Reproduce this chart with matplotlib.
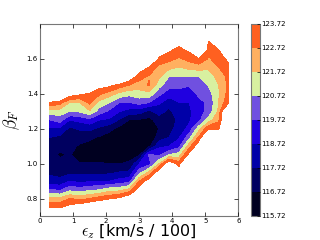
import matplotlib
matplotlib.use("Agg")
import matplotlib.pyplot as plt
import numpy as np
from matplotlib.colors import ListedColormap, BoundaryNorm

plt.style.use("classic")
plt.rcParams["mathtext.fontset"] = "cm"

W = 127.0  # outside the fitted region (above top level -> left blank)

eps_z = [0.3, 0.6, 0.9, 1.2, 1.5, 1.8, 2.1, 2.4, 2.7, 3.0, 3.3, 3.6, 3.9, 4.2, 4.5, 4.8, 5.1, 5.4, 5.7]
beta_f = [0.70, 0.75, 0.80, 0.85, 0.90, 0.95, 1.00, 1.05, 1.10, 1.15, 1.20, 1.25,
          1.30, 1.35, 1.40, 1.45, 1.50, 1.55, 1.60, 1.65, 1.70, 1.75, 1.80]

# one list per eps_z column, values along beta_f
chi2_columns = [
    [W, 123.6, 122.05, 119.78, 118.15, 117.5, 117.1, 117.0, 117.4, 117.72, 118.55, 119.72, 121.3, 123.6, W, W, W, W, W, W, W, W, W],
    [W, 123.6, 121.94, 119.58, 117.95, 117.4, 117.0, 116.6, 116.9, 117.5, 118.45, 120.16, 121.25, 123.09, W, W, W, W, W, W, W, W, W],
    [W, 124.2, 122.72, 120.43, 118.7, 117.48, 116.95, 116.8, 116.95, 117.3, 117.5, 118.72, 120.72, 121.72, 124.6, W, W, W, W, W, W, W, W],
    [W, 124.68, 122.4, 120.17, 118.45, 117.43, 116.78, 116.3, 116.6, 117.1, 117.85, 119.0, 120.89, 121.72, 124.0, W, W, W, W, W, W, W, W],
    [W, 125.2, 122.72, 120.52, 118.58, 117.47, 116.8, 116.3, 116.4, 116.9, 117.95, 119.39, 121.6, 123.0, 123.6, W, W, W, W, W, W, W, W],
    [W, 125.5, 123.22, 120.72, 118.63, 117.47, 116.8, 116.2, 116.1, 116.6, 117.5, 118.72, 120.22, 121.37, 122.86, 124.3, W, W, W, W, W, W, W],
    [W, W, 123.6, 121.28, 118.72, 117.5, 116.72, 116.2, 115.95, 116.3, 117.0, 118.53, 119.52, 120.72, 122.22, 124.1, W, W, W, W, W, W, W],
    [W, W, 124.0, 121.38, 119.05, 117.76, 116.7, 116.2, 115.9, 116.0, 116.4, 117.6, 118.78, 119.72, 121.42, 123.33, W, W, W, W, W, W, W],
    [W, W, 125.0, 122.05, 119.32, 117.9, 116.85, 116.4, 116.0, 115.9, 116.1, 116.7, 118.3, 119.72, 121.0, 122.72, 124.8, W, W, W, W, W, W],
    [W, W, W, 124.4, 122.72, 120.32, 118.72, 116.6, 115.95, 115.8, 116.0, 116.6, 118.2, 120.1, 121.3, 122.2, 123.2, 124.5, W, W, W, W, W],
    [W, W, W, W, 124.5, 121.95, 119.3, 119.9, 116.5, 115.8, 115.9, 116.4, 117.5, 119.72, 121.4, 122.85, 122.6, 123.6, W, W, W, W, W],
    [W, W, W, W, W, 124.66, 121.72, 119.5, 118.5, 117.2, 116.75, 117.2, 118.15, 118.9, 119.97, 121.1, 121.95, 122.35, 123.5, 124.6, W, W, W],
    [W, W, W, W, W, W, 125.0, 120.72, 118.72, 117.72, 117.3, 117.3, 117.5, 118.1, 119.2, 120.1, 120.72, 121.97, 123.05, 123.9, W, W, W],
    [W, W, W, W, W, 124.5, 123.22, 121.22, 119.37, 118.6, 118.2, 117.9, 118.2, 118.7, 119.33, 120.0, 120.72, 121.63, 122.55, 123.4, 124.2, W, W],
    [W, W, W, W, W, W, W, 124.1, 122.22, 120.27, 118.95, 118.55, 118.5, 118.7, 119.2, 119.8, 120.72, 121.97, 123.05, 123.9, W, W, W],
    [W, W, W, W, W, W, W, W, 124.65, 122.86, 121.3, 119.4, 119.3, 119.5, 119.9, 120.3, 120.72, 122.15, 123.6, W, W, W, W],
    [W, W, W, W, W, W, W, W, W, W, 123.6, 121.22, 120.0, 119.85, 120.3, 120.8, 121.3, 121.85, 122.58, 123.1, 123.62, W, W],
    [W, W, W, W, W, W, W, W, W, W, 123.6, 122.5, 121.9, 121.7, 121.6, 121.7, 122.0, 122.7, 123.2, 123.6, W, W, W],
    [W, W, W, W, W, W, W, W, W, W, W, W, W, 123.6, 123.1, 123.0, 123.0, 123.3, 124.0, W, W, W, W],
]

levels = [115.72, 116.72, 117.72, 118.72, 119.72, 120.72, 121.72, 122.72, 123.72]
band_colors = ["#000020", "#000060", "#0000a8", "#2000e0", "#7050e0",
               "#d8f0a0", "#ffb060", "#ff6020"]

chi2 = np.array(chi2_columns).T

fig = plt.figure(figsize=(3.2, 2.4), dpi=100)
fig.patch.set_facecolor("white")
ax = fig.add_axes([0.125, 0.1, 0.62, 0.8])
cax = fig.add_axes([0.784, 0.1, 0.028, 0.8])

cmap = ListedColormap(band_colors)
norm = BoundaryNorm(levels, cmap.N)
cs = ax.contourf(eps_z, beta_f, chi2, levels=levels, cmap=cmap, norm=norm)

ax.set_xlim(0, 6)
ax.set_ylim(0.7, 1.8)
ax.set_xticks([0, 1, 2, 3, 4, 5, 6])
ax.set_yticks([0.8, 1.0, 1.2, 1.4, 1.6])
ax.tick_params(labelsize=5, length=3, width=0.5, pad=1.5)
for s in ax.spines.values():
    s.set_color("#777777")
    s.set_linewidth(0.8)
ax.set_xlabel(r"$\epsilon_z$ [km/s / 100]", fontsize=11.5, labelpad=-1)
ax.set_ylabel(r"$\beta_F$", fontsize=12.5, labelpad=3)

cb = fig.colorbar(cs, cax=cax, ticks=levels)
cb.ax.set_yticklabels(["%.2f" % v for v in levels])
cb.ax.tick_params(labelsize=5, length=2, width=0.5, pad=1)
cb.outline.set_edgecolor("#777777")
cb.outline.set_linewidth(0.8)

fig.savefig("out.png", dpi=100, facecolor="white")
